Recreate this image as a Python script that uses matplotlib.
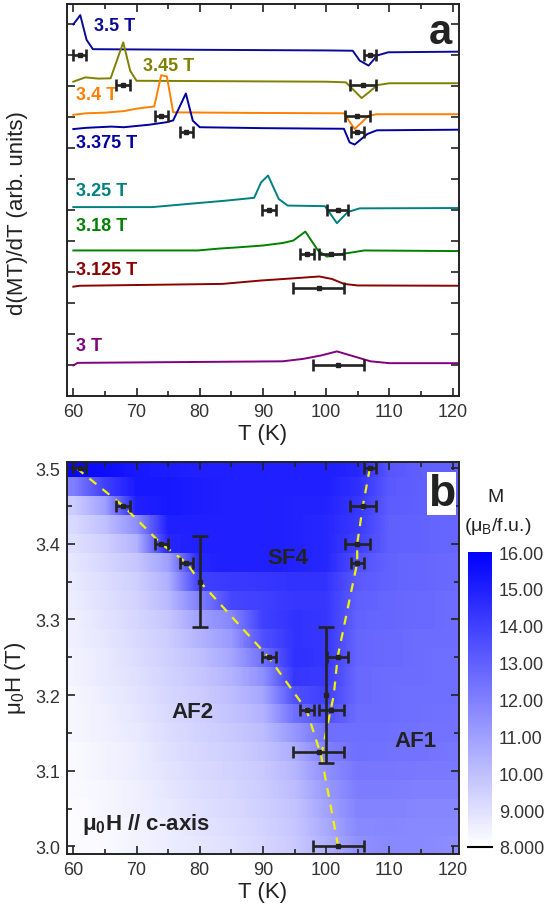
import numpy as np
import matplotlib.pyplot as plt
from matplotlib.colors import LinearSegmentedColormap, Normalize
from matplotlib.cm import ScalarMappable

plt.rcParams['font.family'] = ['Liberation Sans', 'DejaVu Sans']
plt.rcParams['mathtext.fontset'] = 'custom'
plt.rcParams['mathtext.rm'] = 'Liberation Sans'
plt.rcParams['mathtext.it'] = 'Liberation Sans:italic'
plt.rcParams['mathtext.bf'] = 'Liberation Sans:bold'

# ---- panel a : d(MT)/dT curves (offset, arb. units) ----
c35_T = [60, 61.1, 62.1, 63.1, 80, 100, 104.2, 105.3, 106.7, 108.1, 109.8, 121]
c35_y = [11.0, 11.3, 10.5, 10.2, 10.18, 10.16, 10.15, 9.83, 9.67, 10.0, 10.1, 10.12]
c345_T = [60, 61.9, 64, 65.9, 67.9, 69.0, 70.0, 80, 100, 103.1, 104.2, 105.6, 106.7, 108.1, 110, 121]
c345_y = [9.15, 9.29, 9.25, 9.26, 10.42, 9.5, 9.18, 9.17, 9.15, 9.13, 8.91, 8.62, 8.8, 9.04, 9.1, 9.1]
c34_T = [60, 62, 65, 68, 70, 72.8, 73.9, 74.8, 75.8, 90, 102.8, 104.5, 106.7, 108, 121]
c34_y = [8.08, 8.13, 8.15, 8.2, 8.28, 8.35, 9.36, 9.32, 8.16, 8.14, 8.13, 7.62, 8.05, 8.1, 8.1]
c3375_T = [60, 62, 64, 66, 68, 70, 72, 74.7, 75.8, 77.8, 78.9, 80, 90, 102.8, 103.7, 104.5, 106.5, 108, 121]
c3375_y = [7.62, 7.66, 7.68, 7.7, 7.68, 7.72, 7.76, 7.84, 7.9, 8.77, 7.89, 7.68, 7.65, 7.63, 7.19, 7.12, 7.46, 7.58, 7.6]
c325_T = [60, 72.5, 78, 84.2, 88.6, 89.7, 90.8, 92.5, 93.9, 99.8, 101.7, 103.4, 105.3, 121]
c325_y = [5.1, 5.1, 5.2, 5.31, 5.4, 5.9, 6.12, 5.36, 5.15, 5.13, 4.58, 4.94, 5.06, 5.07]
c318_T = [60, 79.7, 83, 86, 90, 93.1, 94.8, 96.7, 98.7, 100.1, 101.5, 104.2, 106, 121]
c318_y = [3.7, 3.7, 3.76, 3.8, 3.86, 3.94, 4.02, 4.31, 3.7, 3.5, 3.56, 3.64, 3.7, 3.68]
c3125_T = [60, 61, 83.6, 89.7, 94.8, 98.9, 100.9, 102.8, 105, 121]
c3125_y = [2.53, 2.56, 2.62, 2.73, 2.8, 2.86, 2.78, 2.62, 2.57, 2.56]
c3_T = [60, 60.7, 93.1, 96.4, 99.2, 101.7, 104.2, 107, 110, 121]
c3_y = [-0.01, 0.07, 0.12, 0.2, 0.31, 0.44, 0.29, 0.12, 0.06, 0.06]

curve_labels = ['3.5 T', '3.45 T', '3.4 T', '3.375 T', '3.25 T', '3.18 T', '3.125 T', '3 T']
curve_colors = ['#0a0a96', '#808000', '#ff8000', '#0000a0', '#008080', '#008000', '#8b0000', '#800080']
label_T = [63.3, 71.1, 60.5, 60.5, 60.5, 60.5, 60.5, 60.5]
label_y = [10.95, 9.66, 8.73, 7.19, 5.63, 4.5, 3.1, 0.63]

# transition temperatures (K) with errors, per field
err_field = [3.5, 3.5, 3.45, 3.45, 3.4, 3.4, 3.375, 3.375, 3.25, 3.25, 3.18, 3.18, 3.125, 3.0]
err_ypos = [10.0, 10.0, 9.04, 9.04, 8.03, 8.03, 7.54, 7.54, 5.02, 5.02, 3.6, 3.6, 2.5, 0.01]
err_T = [61.0, 106.9, 67.9, 105.8, 73.9, 104.9, 77.9, 104.9, 90.9, 101.8, 96.9, 100.8, 98.8, 101.9]
err_dT = [1.0, 1.0, 1.1, 2.0, 1.0, 2.0, 1.1, 1.0, 1.1, 1.7, 1.1, 2.0, 4.0, 4.0]

# vertical error bars in panel b
vbar_T = [80.0, 100.0]
vbar_H = [3.35, 3.2]
vbar_dH = [0.06, 0.09]

# phase boundaries (dashed)
left_T = [60.5, 67.9, 73.9, 77.9, 80.0, 90.9, 96.9, 99.2, 101.9]
left_H = [3.5, 3.45, 3.4, 3.375, 3.35, 3.25, 3.18, 3.12, 3.0]
right_T = [106.9, 105.8, 104.9, 104.9, 101.8, 101.2, 99.2]
right_H = [3.5, 3.45, 3.4, 3.375, 3.25, 3.2, 3.12]

# ---- panel b : M(T, H) map ----
map_T = [60, 65, 70, 75, 80, 85, 90, 95, 100, 105, 110, 115, 120]
map_H = [3.5, 3.475, 3.45, 3.425, 3.4, 3.375, 3.35, 3.325, 3.3, 3.275, 3.25,
         3.225, 3.2, 3.175, 3.15, 3.125, 3.1, 3.075, 3.05, 3.025, 3.0]
map_M = [
    [15.7, 15.6, 15.2, 15.1, 15.0, 15.0, 15.0, 15.0, 15.0, 14.8, 13.3, 13.0, 12.9],
    [12.0, 14.0, 15.2, 15.2, 15.1, 15.0, 15.0, 15.0, 15.0, 14.5, 13.2, 13.0, 12.9],
    [9.6, 11.0, 15.0, 15.2, 15.1, 15.0, 15.0, 14.9, 14.9, 14.3, 13.1, 13.0, 12.9],
    [9.2, 10.0, 11.5, 15.0, 15.0, 15.0, 15.0, 14.9, 14.8, 14.2, 13.0, 12.9, 12.8],
    [9.0, 9.5, 10.4, 14.8, 15.0, 15.0, 15.0, 14.9, 14.8, 14.0, 13.0, 12.9, 12.8],
    [8.8, 9.3, 9.8, 11.0, 14.8, 15.0, 15.0, 14.9, 14.8, 13.5, 12.9, 12.8, 12.7],
    [8.7, 9.1, 9.5, 10.5, 14.0, 14.2, 14.3, 14.4, 14.4, 13.2, 12.9, 12.8, 12.7],
    [8.6, 9.0, 9.4, 10.2, 12.0, 13.8, 14.0, 14.3, 14.3, 13.0, 12.8, 12.7, 12.6],
    [8.5, 8.9, 9.3, 9.8, 11.0, 11.8, 14.0, 14.4, 14.3, 12.9, 12.8, 12.7, 12.6],
    [8.5, 8.8, 9.2, 9.6, 10.4, 11.2, 13.5, 14.4, 14.3, 12.8, 12.7, 12.6, 12.6],
    [8.4, 8.7, 9.1, 9.5, 10.0, 10.8, 12.5, 14.5, 14.3, 12.8, 12.7, 12.6, 12.5],
    [8.4, 8.7, 9.0, 9.4, 9.8, 10.4, 11.5, 14.3, 14.2, 12.7, 12.6, 12.6, 12.5],
    [8.3, 8.6, 8.9, 9.3, 9.6, 10.1, 10.8, 13.5, 14.0, 12.7, 12.6, 12.5, 12.5],
    [8.3, 8.5, 8.8, 9.2, 9.5, 9.9, 10.4, 12.5, 13.5, 12.6, 12.6, 12.5, 12.4],
    [8.3, 8.5, 8.7, 9.1, 9.4, 9.7, 10.1, 11.3, 12.5, 12.5, 12.5, 12.4, 12.4],
    [8.2, 8.4, 8.6, 9.0, 9.3, 9.5, 9.9, 10.6, 12.0, 12.5, 12.4, 12.4, 12.3],
    [8.2, 8.4, 8.6, 8.9, 9.2, 9.4, 9.7, 10.3, 11.5, 12.3, 12.3, 12.2, 12.2],
    [8.2, 8.3, 8.5, 8.8, 9.1, 9.3, 9.6, 10.1, 11.2, 12.1, 12.1, 12.0, 12.0],
    [8.1, 8.3, 8.5, 8.7, 9.0, 9.2, 9.5, 9.9, 10.9, 11.9, 11.9, 11.8, 11.8],
    [8.1, 8.2, 8.4, 8.6, 8.9, 9.1, 9.4, 9.8, 10.7, 11.7, 11.8, 11.7, 11.7],
    [8.1, 8.2, 8.4, 8.6, 8.8, 9.0, 9.3, 9.7, 10.5, 11.5, 11.7, 11.7, 11.6],
]
cbar_ticks = [8, 9, 10, 11, 12, 13, 14, 15, 16]
cbar_labels = ['8.000', '9.000', '10.00', '11.00', '12.00', '13.00', '14.00', '15.00', '16.00']

dark = '#222222'
fig = plt.figure(figsize=(5.55, 9.12), dpi=100)
ax1 = fig.add_axes([0.1207, 0.5647, 0.7063, 0.4295])
ax2 = fig.add_axes([0.1207, 0.0625, 0.7063, 0.4298])
cax = fig.add_axes([0.8432, 0.0702, 0.0432, 0.3234])

# panel a
curves = [(c35_T, c35_y), (c345_T, c345_y), (c34_T, c34_y), (c3375_T, c3375_y),
          (c325_T, c325_y), (c318_T, c318_y), (c3125_T, c3125_y), (c3_T, c3_y)]
for (t, y), lab, col, lx, ly in zip(curves, curve_labels, curve_colors, label_T, label_y):
    ax1.plot(t, y, color=col, lw=1.4)
    ax1.text(lx, ly, lab, color=col, fontsize=13, fontweight='bold', va='center', ha='left')

ax1.errorbar(err_T, err_ypos, xerr=err_dT, fmt='s', ms=3, color=dark, ecolor=dark,
             elinewidth=1.9, capsize=4.5, capthick=1.9, zorder=5)
ax1.text(118, 10.75, 'a', fontsize=30, fontweight='bold', color=dark, ha='center', va='center')
ax1.set_xlim(59, 121)
ax1.set_ylim(-1, 11.65)
ax1.set_yticks(np.arange(0, 12))
ax1.set_yticklabels([])
ax1.set_xticks(np.arange(60, 121, 10))
ax1.set_xticks(np.arange(65, 121, 10), minor=True)
ax1.set_xlabel('T (K)', fontsize=16, color=dark, labelpad=2)
ax1.set_ylabel('d(MT)/dT (arb. units)', fontsize=16, color=dark)
ax1.yaxis.set_label_coords(-0.1, 0.47)

# panel b
cmap = LinearSegmentedColormap.from_list('wb', ['#ffffff', '#0000ff'])
norm = Normalize(8, 16)
step_T = map_T[1] - map_T[0]
step_H = map_H[0] - map_H[1]
for h, row in zip(map_H, map_M):
    ax2.imshow(np.array([row]), extent=[map_T[0] - step_T / 2, map_T[-1] + step_T / 2,
                                       h - step_H / 2, h + step_H / 2],
               aspect='auto', interpolation='bilinear', cmap=cmap, norm=norm, zorder=1)

ax2.plot(left_T, left_H, color='#f2f200', lw=1.6, ls=(0, (4, 3.5)), zorder=3)
ax2.plot(right_T, right_H, color='#f2f200', lw=1.6, ls=(0, (4, 3.5)), zorder=3)
ax2.errorbar(err_T, err_field, xerr=err_dT, fmt='s', ms=3, color=dark, ecolor=dark,
             elinewidth=1.9, capsize=4.5, capthick=1.9, zorder=5)
ax2.errorbar(vbar_T, vbar_H, yerr=vbar_dH, fmt='s', ms=3, color=dark, ecolor=dark,
             elinewidth=1.9, capsize=5.5, capthick=1.9, zorder=5)

ax2.text(93.9, 3.382, 'SF4', fontsize=16, fontweight='bold', color=dark, ha='center', va='center')
ax2.text(78.9, 3.178, 'AF2', fontsize=16, fontweight='bold', color=dark, ha='center', va='center')
ax2.text(114.2, 3.14, 'AF1', fontsize=16, fontweight='bold', color=dark, ha='center', va='center')
ax2.text(61.3, 3.03, r'$\mathbf{\mu_0}$H // c-axis', fontsize=16, fontweight='bold',
         color=dark, ha='left', va='center')
ax2.text(118.2, 3.466, 'b', fontsize=32, fontweight='bold', color=dark, ha='center', va='center',
         bbox=dict(facecolor='white', edgecolor='none', pad=0.5), zorder=6)

ax2.set_xlim(59, 121)
ax2.set_ylim(2.99, 3.508)
ax2.set_xticks(np.arange(60, 121, 10))
ax2.set_xticks(np.arange(65, 121, 10), minor=True)
ax2.set_yticks([3.0, 3.1, 3.2, 3.3, 3.4, 3.5])
ax2.set_yticks([3.05, 3.15, 3.25, 3.35, 3.45], minor=True)
ax2.yaxis.set_major_formatter(plt.FormatStrFormatter('%.1f'))
ax2.set_xlabel('T (K)', fontsize=16, color=dark, labelpad=2)
ax2.set_ylabel(r'$\mathrm{\mu_0}$H (T)', fontsize=16, color=dark)
ax2.yaxis.set_label_coords(-0.1, 0.45)

for ax in (ax1, ax2):
    ax.tick_params(which='both', direction='in', top=True, right=True, colors=dark,
                   labelcolor='#333333', labelsize=13, width=1.2)
    ax.tick_params(which='major', length=6, pad=5)
    ax.tick_params(which='minor', length=3.5)
    for s in ax.spines.values():
        s.set_linewidth(1.4)
        s.set_color(dark)

# colorbar
cb = fig.colorbar(ScalarMappable(norm=norm, cmap=cmap), cax=cax)
cb.outline.set_visible(False)
cb.set_ticks(cbar_ticks)
cb.set_ticklabels(cbar_labels)
cax.tick_params(length=0, labelsize=13, labelcolor='#333333', pad=5)
cax.axhline(8, color='black', lw=1.5, clip_on=False)
fig.text(0.893, 0.455, 'M', fontsize=14, color=dark, ha='center', va='center')
fig.text(0.897, 0.423, r'($\mathrm{\mu_B}$/f.u.)', fontsize=14, color=dark, ha='center', va='center')

fig.savefig('out.png', dpi=100)
